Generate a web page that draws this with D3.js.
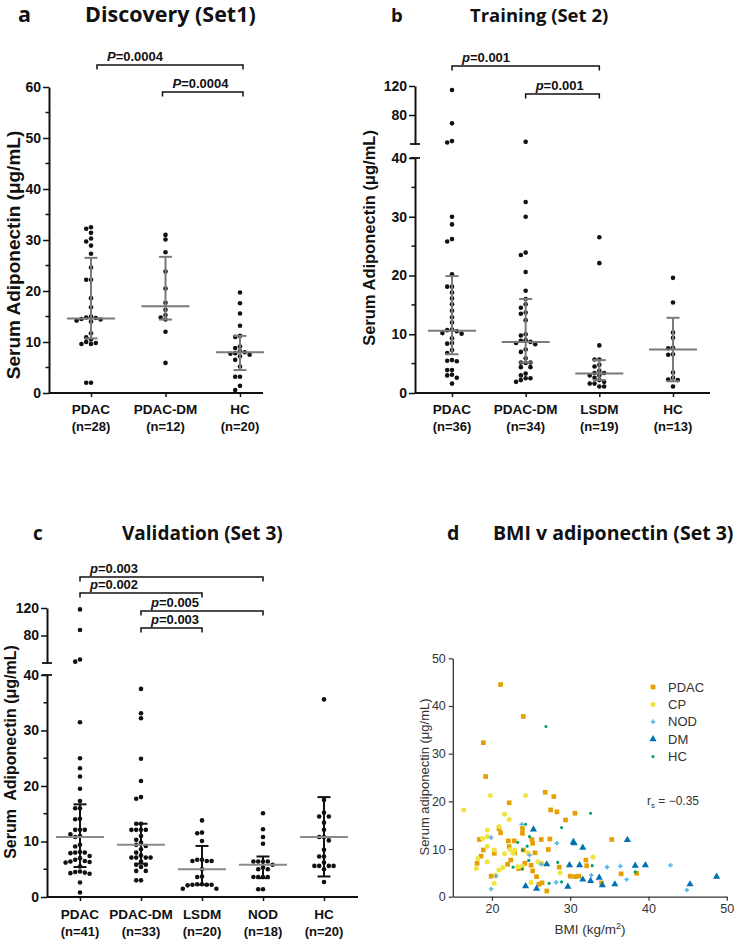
<!DOCTYPE html>
<html><head><meta charset="utf-8">
<script src="https://cdn.jsdelivr.net/npm/d3@7"></script>
<style>
body{margin:0;background:#fff;}
svg{display:block;}
text{font-family:"Liberation Sans",Arial,sans-serif;}
.ttl{font-family:"Open Sans",sans-serif;font-weight:700;fill:#111;}
</style></head><body>
<svg id="chart" width="734" height="940"></svg>
<script>
// ---------- Panel a : Discovery (Set1) ----------
const aCategories = ["PDAC", "PDAC-DM", "HC"];
const aCounts = ["(n=28)", "(n=12)", "(n=20)"];
const aPDAC = [32.2,32.5,31.4,30.3,29.7,28.9,27.3,24.6,22.2,22.2,18.6,16.8,15.0,14.7,14.4,14.2,14.5,14.8,14.0,11.7,10.9,10.5,10.0,9.6,9.6,9.8,2.0,2.0];
const aPDACDM = [31.0,30.1,27.6,23.8,20.5,17.7,16.3,15.3,14.8,14.4,12.0,5.9];
const aHC = [19.7,17.6,15.6,13.2,11.2,11.0,9.1,8.8,8.2,8.0,7.8,7.7,7.5,7.2,6.5,5.2,3.2,3.2,1.4,0.6];
const aMedian = [14.6, 17.0, 8.0];
const aQ1 = [10.7, 14.4, 4.5];
const aQ3 = [26.5, 26.7, 11.2];
const aTicks = [0,10,20,30,40,50,60];
const aPvals = ["0.0004", "0.0004"];

// ---------- Panel b : Training (Set 2) ----------
const bCategories = ["PDAC", "PDAC-DM", "LSDM", "HC"];
const bCounts = ["(n=36)", "(n=34)", "(n=19)", "(n=13)"];
const bPDAC = [114.5,68.5,44,42,30.0,28.7,26.2,25.8,20.2,18.1,18.1,17.1,16.1,15.1,14.0,12.9,12.0,10.8,10.7,10.5,10.2,10.1,9.3,8.5,8.4,7.3,6.8,5.5,5.4,5.6,3.9,3.9,3.1,3.0,2.6,1.6];
const bPDACDM = [43,32.5,30.0,23.9,23.5,20.6,17.4,16.0,15.1,14.5,13.7,13.5,12.4,10.0,9.8,9.0,8.9,8.7,8.5,8.3,7.4,7.0,5.9,5.2,5.1,5.2,4.4,4.4,3.3,3.0,2.5,2.5,1.9,2.2];
const bLSDM = [26.5,22.1,8.1,5.7,5.7,4.8,4.5,3.8,3.4,3.4,3.0,3.0,2.6,2.2,1.9,1.6,1.6,1.1,1.1];
const bHC = [19.6,15.4,10.3,9.4,7.7,7.6,6.6,6.5,3.5,2.6,2.3,2.2,1.1];
const bMedian = [10.6, 8.7, 3.3, 7.4];
const bQ1 = [6.6, 5.2, 2.2, 2.0];
const bQ3 = [19.9, 16.0, 5.6, 12.8];
const bLowTicks = [0,10,20,30,40];
const bHighTicks = [80,120];
const bPvals = ["0.001", "0.001"];

// ---------- Panel c : Validation (Set 3) ----------
const cCategories = ["PDAC", "PDAC-DM", "LSDM", "NOD", "HC"];
const cCounts = ["(n=41)", "(n=33)", "(n=20)", "(n=18)", "(n=20)"];
const cPDAC = [118,88,45,42,31.5,25.0,23.2,21.7,19.5,17.3,16.0,16.0,14.1,14.0,12.1,12.1,12.1,11.3,11.0,10.8,9.4,9.1,8.1,8.0,8.0,7.9,7.4,7.0,6.7,6.5,6.4,6.3,6.2,5.5,4.6,4.5,4.4,4.3,4.2,2.6,0.8];
const cPDACDM = [37.5,33.1,32.2,24.9,20.9,18.0,17.7,13.2,13.2,12.1,12.1,12.1,12.1,11.0,10.3,9.8,9.4,9.2,8.6,8.0,7.5,7.1,7.1,7.1,7.1,6.4,5.8,5.8,5.4,4.7,4.7,3.0,3.0];
const cLSDM = [13.8,11.6,11.5,10.1,6.7,6.7,6.5,6.5,6.5,5.0,3.7,3.6,2.3,2.2,2.2,2.1,2.2,2.3,1.5,1.5];
const cNOD = [15.1,12.2,10.8,9.6,6.4,6.4,6.4,6.4,5.8,5.3,5.0,5.0,3.6,3.6,3.6,3.6,1.4,1.4];
const cHC = [35.6,17.5,15.2,14.5,14.5,13.4,12.1,10.8,10.8,10.2,8.5,7.3,7.3,6.2,5.6,5.6,5.6,5.6,5.0,2.7];
const cMedian = [10.8, 9.4, 5.0, 5.8, 10.8];
const cQ1 = [5.4, 6.0, 2.2, 3.4, 3.7];
const cQ3 = [16.7, 13.2, 9.2, 7.3, 18.0];
const cPvals = ["0.003", "0.002", "0.005", "0.003"];

// ---------- Panel d : BMI v adiponectin (Set 3) ----------
const dGroups = ["PDAC", "CP", "NOD", "DM", "HC"];
const dPDAC = [[21.1,44.5],[24.0,37.8],[18.9,32.3],[19.2,25.2],[26.8,21.9],[27.9,21.0],[22.2,19.7],[27.5,18.2],[28.3,17.8],[30.6,17.5],[29.4,16.1],[20.9,14.3],[21.1,13.4],[23.9,14.3],[23.9,13.3],[18.4,12.0],[22.1,11.7],[22.85,11.7],[25.1,12.0],[26.3,12.0],[27.4,12.1],[35.3,12.0],[18.9,9.8],[20.3,9.1],[22.9,9.2],[24.0,9.8],[25.5,9.2],[27.2,9.9],[18.1,7.0],[18.6,8.5],[22.0,6.8],[22.4,7.7],[24.2,7.0],[25.0,6.6],[23.4,5.9],[25.2,5.4],[28.6,6.2],[32.0,7.7],[19.9,4.3],[25.7,4.2],[30.0,4.3],[30.6,4.2],[31.1,4.3],[32.1,6.5],[34.0,2.9],[36.5,4.8],[38.5,4.9],[26.0,2.6],[26.4,2.9],[27.0,1.2],[22.2,10.5],[25.2,11.2]];
const dCP = [[16.4,18.2],[19.8,21.2],[24.3,21.2],[21.6,17.3],[22.2,16.2],[20.9,14.7],[19.4,14.0],[18.8,12.2],[19.4,12.6],[19.4,10.6],[20.3,9.8],[22.3,9.9],[22.9,9.8],[21.6,9.0],[24.6,9.2],[18.2,8.0],[18.0,5.9],[19.4,7.3],[20.9,5.6],[21.4,6.1],[20.5,4.5],[20.3,2.8],[25.0,3.0],[25.9,7.3],[26.4,7.0],[23.3,6.3],[23.9,6.4],[28.7,5.0],[32.9,8.3],[22.7,9.1]];
const dNOD = [[23.8,15.2],[19.9,12.4],[28.3,11.2],[26.3,6.8],[32.7,4.5],[34.7,6.2],[36.4,6.4],[37.2,3.6],[42.8,6.6],[44.9,1.4],[20.5,4.3],[19.9,1.6],[24.8,8.7],[28.2,3.0]];
const dDM = [[25.3,14.1],[30.4,11.5],[30.5,11.2],[31.6,10.3],[37.3,11.9],[27.0,6.8],[29.9,6.6],[31.2,6.6],[38.3,6.5],[39.6,6.6],[24.3,2.2],[25.7,1.7],[29.7,2.1],[31.6,3.6],[32.6,3.3],[33.7,4.0],[34.1,2.4],[35.7,2.6],[45.3,2.6],[48.7,4.2]];
const dHC = [[26.9,35.7],[32.6,17.5],[28.9,14.5],[24.3,15.2],[24.8,12.6],[23.3,11.4],[24.5,10.6],[23.9,9.8],[24.7,7.6],[22.7,6.2],[23.9,5.8],[28.4,7.2],[32.8,6.5],[27.3,2.8],[28.9,3.1],[38.3,5.2]];
const dXTicks = [20,30,40,50];
const dYTicks = [0,10,20,30,40,50];
const dRs = "−0.35";

// =====================================================
const svg = d3.select("#chart");

function dodge(vals, yFn, step, minD) {
  const pts = vals.map(v => ({v, y: yFn(v)})).sort((a, b) => a.y - b.y);
  const placed = [];
  for (const p of pts) {
    for (let k = 0; k < 40; k++) {
      const off = k === 0 ? 0 : (k % 2 ? -1 : 1) * Math.ceil(k / 2) * step;
      if (placed.every(q => Math.hypot(q.x - off, q.y - p.y) >= minD)) { p.x = off; break; }
    }
    placed.push(p);
  }
  return pts;
}

function dotPanel(cfg) {
  const g = svg.append("g");
  const x = d3.scalePoint().domain(cfg.cats).range(cfg.catRange);
  const yFn = cfg.yFn;
  const axisCol = "#111";
  g.append("line").attr("x1", cfg.axisX[0]).attr("x2", cfg.axisX[1])
    .attr("y1", cfg.y0).attr("y2", cfg.y0).attr("stroke", axisCol).attr("stroke-width", 2);
  const xa = g.append("g").attr("transform", `translate(0,${cfg.y0})`)
    .call(d3.axisBottom(x).tickSize(4).tickSizeOuter(0).tickFormat(""));
  xa.select(".domain").remove();
  xa.selectAll("line").attr("stroke", axisCol).attr("stroke-width", 1.5);
  cfg.cats.forEach((c, i) => {
    g.append("text").attr("x", x(c)).attr("y", cfg.labY).attr("text-anchor", "middle")
      .attr("font-size", 13.5).attr("font-weight", 700).attr("fill", "#111").text(c);
    g.append("text").attr("x", x(c)).attr("y", cfg.labY + 17).attr("text-anchor", "middle")
      .attr("font-size", 13).attr("font-weight", 700).attr("fill", "#111").text(cfg.counts[i]);
  });
  cfg.segments.forEach(seg => {
    const ax = g.append("g").attr("transform", `translate(${cfg.axisX[0]},0)`)
      .call(d3.axisLeft(seg.scale).tickValues(seg.ticks).tickSize(6).tickSizeOuter(0).tickPadding(2));
    ax.select(".domain").attr("stroke", axisCol).attr("stroke-width", 2);
    ax.selectAll(".tick line").attr("stroke", axisCol).attr("stroke-width", 1.5);
    ax.selectAll("text").attr("font-size", 14).attr("font-weight", 700).attr("fill", "#111")
      .attr("font-family", "Liberation Sans, Arial, sans-serif");
    if (seg.minor) {
      seg.minor.forEach(m => {
        g.append("line").attr("x1", cfg.axisX[0] - 3.5).attr("x2", cfg.axisX[0])
          .attr("y1", seg.scale(m)).attr("y2", seg.scale(m)).attr("stroke", axisCol).attr("stroke-width", 1.5);
      });
    }
    if (seg.caps) {
      seg.caps.forEach(cv => {
        g.append("line").attr("x1", cfg.axisX[0] - 5).attr("x2", cfg.axisX[0] + 5)
          .attr("y1", seg.scale(cv)).attr("y2", seg.scale(cv)).attr("stroke", axisCol).attr("stroke-width", 1.8);
      });
    }
  });
  g.append("text").attr("transform", `translate(${cfg.yLab[0]},${cfg.yLab[1]}) rotate(-90)`)
    .attr("text-anchor", "middle").attr("dominant-baseline", "central")
    .attr("font-size", cfg.yLabSize).attr("font-weight", 700).attr("fill", "#111")
    .style("white-space", "pre").text(cfg.yLabText);
  cfg.groups.forEach((vals, i) => {
    const cx = x(cfg.cats[i]);
    const pts = dodge(vals, yFn, 4.8, 4.5);
    g.selectAll(null).data(pts).enter().append("circle")
      .attr("cx", d => cx + d.x).attr("cy", d => d.y).attr("r", 2.3).attr("fill", "#111");
  });
  cfg.cats.forEach((c, i) => {
    const cx = x(c);
    const wc = cfg.whiskerCol, mc = cfg.medCol;
    g.append("line").attr("x1", cx).attr("x2", cx).attr("y1", yFn(cfg.q1[i])).attr("y2", yFn(cfg.q3[i]))
      .attr("stroke", wc).attr("stroke-width", 2);
    [cfg.q1[i], cfg.q3[i]].forEach(q => g.append("line").attr("x1", cx - 6.5).attr("x2", cx + 6.5)
      .attr("y1", yFn(q)).attr("y2", yFn(q)).attr("stroke", wc).attr("stroke-width", 2));
    g.append("line").attr("x1", cx - 24).attr("x2", cx + 24).attr("y1", yFn(cfg.med[i])).attr("y2", yFn(cfg.med[i]))
      .attr("stroke", mc).attr("stroke-width", 2);
  });
  cfg.brackets.forEach(b => {
    const x1 = x(cfg.cats[b.from]) + (b.dx1 || 0), x2 = x(cfg.cats[b.to]) + (b.dx2 || 0);
    g.append("path").attr("d", `M${x1},${b.y + 4.5}V${b.y}H${x2}V${b.y + 4.5}`)
      .attr("fill", "none").attr("stroke", "#111").attr("stroke-width", 1.5);
    const t = g.append("text").attr("x", x1 + 10).attr("y", b.y - 4).attr("font-size", 13)
      .attr("font-weight", 700).attr("fill", "#111");
    t.append("tspan").attr("font-style", "italic").text(cfg.pLetter);
    t.append("tspan").text("=" + b.p);
  });
}

// ---- panel a
const aY = d3.scaleLinear().domain([0, 60]).range([393, 87]);
dotPanel({
  cats: aCategories, counts: aCounts, catRange: [91, 240], axisX: [49, 263], y0: 393, labY: 414,
  groups: [aPDAC, aPDACDM, aHC], med: aMedian, q1: aQ1, q3: aQ3,
  yFn: v => aY(v),
  segments: [{scale: aY, ticks: aTicks, minor: [5,15,25,35,45,55]}],
  yLab: [13, 255], yLabSize: 19, yLabText: "Serum Adiponectin (μg/mL)",
  whiskerCol: "#7a7a7a", medCol: "#7a7a7a", pLetter: "P",
  brackets: [{from: 0, to: 2, y: 65, p: aPvals[0], dx1: 6, dx2: 3}, {from: 1, to: 2, y: 92, p: aPvals[1], dx1: -3, dx2: 3}]
});

// ---- panel b
const bLow = d3.scaleLinear().domain([0, 40]).range([393, 158]);
const bHigh = d3.scaleLinear().domain([40, 120]).range([144, 86]);
dotPanel({
  cats: bCategories, counts: bCounts, catRange: [452, 673], axisX: [415, 710], y0: 393, labY: 414,
  groups: [bPDAC, bPDACDM, bLSDM, bHC], med: bMedian, q1: bQ1, q3: bQ3,
  yFn: v => v <= 40 ? bLow(v) : bHigh(v),
  segments: [{scale: bLow, ticks: bLowTicks, minor: [5,15,25,35], caps: [40]},
             {scale: bHigh, ticks: bHighTicks, caps: [40]}],
  yLab: [369, 238], yLabSize: 16.5, yLabText: "Serum Adiponectin (μg/mL)",
  whiskerCol: "#7a7a7a", medCol: "#7a7a7a", pLetter: "p",
  brackets: [{from: 0, to: 2, y: 66, p: bPvals[0]}, {from: 1, to: 2, y: 94, p: bPvals[1]}]
});

// ---- panel c
const cLow = d3.scaleLinear().domain([0, 40]).range([897, 675]);
const cHigh = d3.scaleLinear().domain([40, 120]).range([663, 608]);
dotPanel({
  cats: cCategories, counts: cCounts, catRange: [80, 324], axisX: [47, 358], y0: 897, labY: 919,
  groups: [cPDAC, cPDACDM, cLSDM, cNOD, cHC], med: cMedian, q1: cQ1, q3: cQ3,
  yFn: v => v <= 40 ? cLow(v) : cHigh(v),
  segments: [{scale: cLow, ticks: [0,10,20,30,40], minor: [5,15,25,35], caps: [40]},
             {scale: cHigh, ticks: [80,120], caps: [40]}],
  yLab: [10, 752], yLabSize: 16, yLabText: "Serum  Adiponectin (μg/mL)",
  whiskerCol: "#111", medCol: "#8a8a8a", pLetter: "p",
  brackets: [{from: 0, to: 3, y: 577, p: cPvals[0]}, {from: 0, to: 2, y: 593, p: cPvals[1]},
             {from: 1, to: 3, y: 611, p: cPvals[2]}, {from: 1, to: 2, y: 628, p: cPvals[3]}]
});

// ---- panel d
(function () {
  const g = svg.append("g");
  const x = d3.scaleLinear().domain([15, 50]).range([452.8, 726.8]);
  const y = d3.scaleLinear().domain([0, 50]).range([896.7, 658.3]);
  const col = "#333";
  const xa = g.append("g").attr("transform", "translate(0,896.7)")
    .call(d3.axisBottom(x).tickValues(dXTicks).tickSize(4).tickSizeOuter(0).tickPadding(3));
  const ya = g.append("g").attr("transform", "translate(452.8,0)")
    .call(d3.axisLeft(y).tickValues(dYTicks).tickSize(4).tickSizeOuter(0).tickPadding(3));
  [xa, ya].forEach(a => {
    a.select(".domain").attr("stroke", col).attr("stroke-width", 1.3);
    a.selectAll(".tick line").attr("stroke", col).attr("stroke-width", 1.2);
    a.selectAll("text").attr("font-size", 12.5).attr("fill", col).attr("font-family", "Liberation Sans, Arial, sans-serif");
  });
  g.append("text").attr("transform", "translate(424,777) rotate(-90)").attr("text-anchor", "middle")
    .attr("dominant-baseline", "central").attr("font-size", 13).attr("fill", col).text("Serum adiponectin (μg/mL)");
  const xl = g.append("text").attr("x", 590).attr("y", 934).attr("text-anchor", "middle")
    .attr("font-size", 13.5).attr("fill", col);
  xl.append("tspan").text("BMI (kg/m");
  xl.append("tspan").attr("dy", -5).attr("font-size", 9).text("2");
  xl.append("tspan").attr("dy", 5).text(")");

  const styles = {
    PDAC: {data: dPDAC, color: "#E69F00", sym: d3.symbolSquare, size: 22},
    CP:   {data: dCP,   color: "#F0E442", sym: d3.symbolCircle, size: 20},
    NOD:  {data: dNOD,  color: "#56B4E9", sym: d3.symbolCross,  size: 12},
    DM:   {data: dDM,   color: "#0072B2", sym: d3.symbolTriangle, size: 22},
    HC:   {data: dHC,   color: "#009E73", sym: d3.symbolCircle, size: 8}
  };
  dGroups.forEach(k => {
    const s = styles[k];
    g.selectAll(null).data(s.data).enter().append("path")
      .attr("d", d3.symbol(s.sym, s.size)())
      .attr("transform", d => `translate(${x(d[0])},${y(d[1])})`)
      .attr("fill", s.color);
  });
  dGroups.forEach((k, i) => {
    const s = styles[k];
    const ly = 687 + i * 17.4;
    g.append("path").attr("d", d3.symbol(s.sym, s.size)()).attr("transform", `translate(653,${ly})`).attr("fill", s.color);
    g.append("text").attr("x", 668).attr("y", ly).attr("dominant-baseline", "central")
      .attr("font-size", 13).attr("fill", col).text(k);
  });
  const rt = g.append("text").attr("x", 647).attr("y", 805).attr("font-size", 12).attr("fill", col);
  rt.append("tspan").text("r");
  rt.append("tspan").attr("dy", 3).attr("font-size", 8).text("s");
  rt.append("tspan").attr("dy", -3).text(" = " + dRs);
})();

// titles
const titles = [
  {l: "a", lx: 18, t: "Discovery (Set1)", tx: 85, y: 22, fs: 21.5},
  {l: "b", lx: 391, t: "Training (Set 2)", tx: 470, y: 22, fs: 18.5},
  {l: "c", lx: 33, t: "Validation (Set 3)", tx: 122, y: 540, fs: 19},
  {l: "d", lx: 447, t: "BMI v adiponectin (Set 3)", tx: 493, y: 540, fs: 19.5}
];
titles.forEach(d => {
  svg.append("text").attr("class", "ttl").attr("x", d.lx).attr("y", d.y).attr("font-size", d.fs).text(d.l);
  svg.append("text").attr("class", "ttl").attr("x", d.tx).attr("y", d.y).attr("font-size", d.fs).text(d.t);
});
</script>
</body></html>
